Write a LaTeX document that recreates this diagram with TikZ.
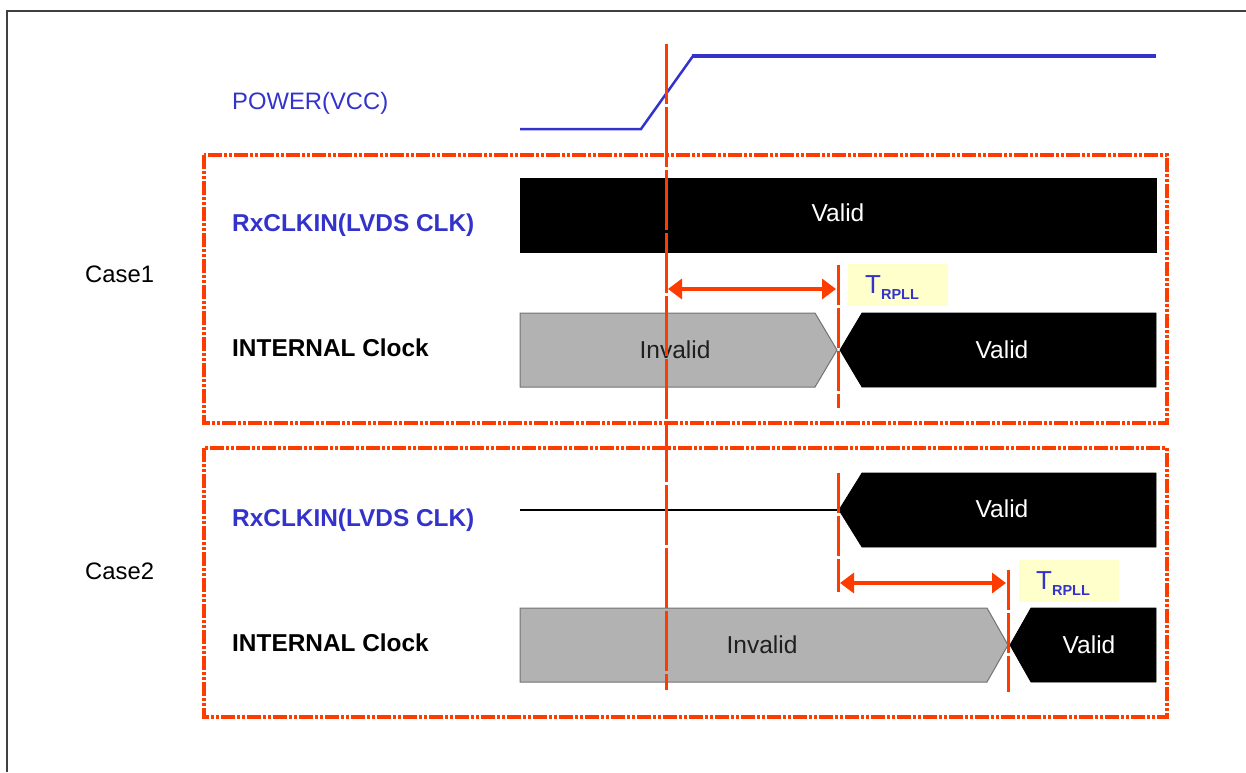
\documentclass[tikz,border=0pt]{standalone}
\usepackage{fontspec}
\setmainfont{Liberation Sans}
\usetikzlibrary{arrows.meta}
\definecolor{sigblue}{RGB}{51,51,204}
\definecolor{tred}{RGB}{255,60,0}
\definecolor{ygray}{RGB}{178,178,178}
\definecolor{lbox}{RGB}{255,255,204}
\tikzset{
  lbl/.style={anchor=west,inner sep=0pt,font=\fontsize{23.8}{27}\selectfont},
  sig/.style={anchor=west,inner sep=0pt,font=\fontsize{24.4}{28}\selectfont\bfseries},
  casebox/.style={draw=tred,line width=3.8pt,dash pattern=on 14pt off 2pt on 3pt off 2pt on 3pt off 2pt},
  redline/.style={draw=tred,line width=3pt,dash pattern=on 60pt off 3pt},
  tick/.style={draw=tred,line width=3pt,dash pattern=on 40pt off 3pt},
  dim/.style={draw=tred,line width=4pt,{Triangle[length=14pt,width=20pt]}-{Triangle[length=14pt,width=20pt]}},
  valid/.style={fill=black,draw=black,line width=0.8pt},
  invalid/.style={fill=ygray,draw=black!55,line width=1pt},
  vtxt/.style={text=white,font=\fontsize{24.5}{28}\selectfont},
  itxt/.style={text=black!88,font=\fontsize{24.5}{28}\selectfont},
  tlab/.style={fill=lbox,minimum width=100pt,minimum height=42pt,inner sep=0pt,text=sigblue},
  tsym/.style={anchor=west,inner sep=0pt,text=sigblue}
}
\begin{document}
\begin{tikzpicture}[x=1pt,y=-1pt]
\useasboundingbox (0,0) rectangle (1246,772);
% outer frame
\draw[black!75,line width=2pt] (7,772) -- (7,11) -- (1246,11);
% labels
\node[lbl,text=sigblue] (pw) at (232,103) {POWER(VCC)};
\node[lbl] (c1) at (85,274) {Case1};
\node[lbl] (c2) at (85,571) {Case2};
\node[sig,text=sigblue] (rx1) at (232,225) {RxCLKIN(LVDS CLK)};
\node[sig] (in1) at (232,348) {INTERNAL Clock};
\node[sig,text=sigblue] (rx2) at (232,520) {RxCLKIN(LVDS CLK)};
\node[sig] (in2) at (232,643) {INTERNAL Clock};
% case boxes
\draw[casebox] (204,155) rectangle (1167,423);
\draw[casebox] (204,448) rectangle (1167,717);
% power
\draw[sigblue,line width=2.5pt] (520,129) -- (641,129) -- (693,56);
\draw[sigblue,line width=4.5pt] (692,56) -- (1156,56);
% case 1 signals
\draw[valid] (520,178) rectangle (1156,252);
\node[vtxt] (v1) at (838,213) {Valid};
\draw[invalid] (520,313) -- (815,313) -- (837,350) -- (815,387) -- (520,387) -- cycle;
\node[itxt] (i1) at (675,350) {Invalid};
\draw[valid] (1156,313) -- (862,313) -- (840,350) -- (862,387) -- (1156,387) -- cycle;
\node[vtxt] (v2) at (1002,350) {Valid};
% case 2 signals
\coordinate (l0) at (520,510);
\coordinate (l1) at (839,510);
\draw[black,line width=1.2pt] (l0) -- (l1);
\draw[valid] (1156,473) -- (862,473) -- (839,510) -- (862,547) -- (1156,547) -- cycle;
\node[vtxt] (v3) at (1002,509) {Valid};
\draw[invalid] (520,608) -- (987,608) -- (1008,645) -- (987,682) -- (520,682) -- cycle;
\node[itxt] (i2) at (762,645) {Invalid};
\draw[valid] (1156,608) -- (1031,608) -- (1010,645) -- (1031,682) -- (1156,682) -- cycle;
\node[vtxt] (v4) at (1089,645) {Valid};
% red markers
\coordinate (m0t) at (666,44);
\coordinate (m0b) at (666,690);
\draw[redline] (m0t) -- (m0b);
\coordinate (m1t) at (838,265);
\coordinate (m1b) at (838,408);
\draw[tick] (m1t) -- (m1b);
\coordinate (m2t) at (838,473);
\coordinate (m2b) at (838,592);
\draw[tick] (m2t) -- (m2b);
\coordinate (m3t) at (1008,570);
\coordinate (m3b) at (1008,692);
\draw[tick] (m3t) -- (m3b);
% dimension arrows
\coordinate (a1l) at (668,289);
\coordinate (a1r) at (836,289);
\draw[dim] (a1l) -- (a1r);
\coordinate (a2l) at (840,583);
\coordinate (a2r) at (1006,583);
\draw[dim] (a2l) -- (a2r);
\node[tlab] (t1) at (898,285) {};
\node[tsym] (t1s) at (865,288) {\fontsize{26}{30}\selectfont T\raisebox{-6pt}{\fontsize{14.5}{16}\selectfont\bfseries RPLL}};
\node[tlab] (t2) at (1069,581) {};
\node[tsym] (t2s) at (1036,584) {\fontsize{26}{30}\selectfont T\raisebox{-6pt}{\fontsize{14.5}{16}\selectfont\bfseries RPLL}};
\end{tikzpicture}
\end{document}
